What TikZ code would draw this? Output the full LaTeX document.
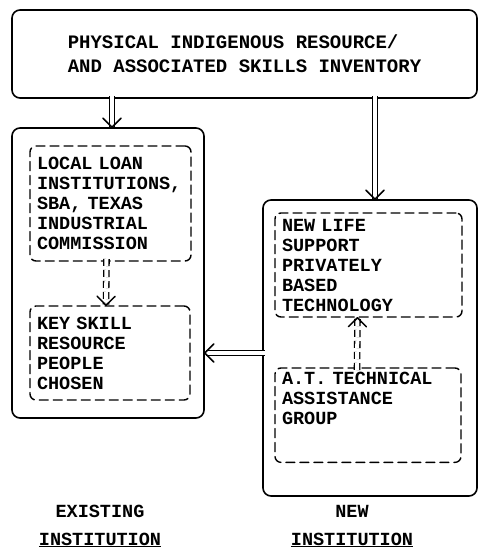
\documentclass[tikz,border=0pt]{standalone}
\usepackage{fontspec}
\setmonofont{Liberation Mono}
\usetikzlibrary{arrows.meta}
\tikzset{
  bigbox/.style={draw, line width=1.6pt, rounded corners=8pt, inner sep=0pt, outer sep=0pt, anchor=north west},
  dashbox/.style={draw, line width=1.4pt, dash pattern=on 9pt off 5pt, rounded corners=6pt,
    align=left, inner xsep=7pt, inner ysep=4pt, outer sep=0pt, anchor=north west},
  dbl/.style={double, double distance=4pt, line width=1.3pt, line cap=butt,
    -{Straight Barb[line width=1.5pt, length=9pt, width=18pt, line cap=round, line join=round]}},
}
\begin{document}
\begin{tikzpicture}[x=1pt, y=-1pt, font=\ttfamily\bfseries\fontsize{18.5}{20}\selectfont, line join=round, line cap=round]
  \useasboundingbox (0,0) rectangle (478,554);
  % inventory
  \node[bigbox, minimum width=465, minimum height=88, align=left,
    font=\ttfamily\bfseries\fontsize{19}{24}\selectfont] (res) at (12,10)
    {PHYSICAL INDIGENOUS RESOURCE/\\AND ASSOCIATED SKILLS INVENTORY};
  % existing institution
  \node[bigbox, minimum width=192, minimum height=290] (lbox) at (12,128) {};
  \node[dashbox, text width=147, minimum height=115] (loan) at (30,146)
    {LOCAL LOAN\\INSTITUTIONS,\\SBA, TEXAS\\INDUSTRIAL\\COMMISSION};
  \node[dashbox, text width=146, minimum height=94] (key) at (30,306)
    {KEY SKILL\\RESOURCE\\PEOPLE\\CHOSEN};
  % new institution
  \node[bigbox, minimum width=214, minimum height=296] (rbox) at (263,200) {};
  \node[dashbox, text width=173, minimum height=104] (life) at (275,213)
    {NEW LIFE\\SUPPORT\\PRIVATELY\\BASED\\TECHNOLOGY};
  \node[dashbox, text width=172, text depth=74pt] (tech) at (275,368)
    {A.T. TECHNICAL\\ASSISTANCE\\GROUP};
  % arrows
  \draw[dbl] ([xshift=4pt, yshift=2pt]res.south -| lbox.north) -- ([xshift=4pt]lbox.north);
  \draw[dbl] ([xshift=5pt, yshift=2pt]res.south -| rbox.north) -- ([xshift=5pt]rbox.north);
  \draw[dbl] ([xshift=2pt]rbox.west |- key.east) -- (lbox.east |- key.east);
  \draw[dbl, dash pattern=on 7pt off 4pt] ([xshift=-4pt, yshift=2pt]loan.south) -- ([xshift=-4pt]key.north);
  \draw[dbl, dash pattern=on 7pt off 4pt] ([xshift=-11pt, yshift=-2pt]tech.north) -- ([xshift=-11pt]life.south);
  % labels
  \node[align=center, font=\ttfamily\bfseries\fontsize{18.5}{28}\selectfont] (exist) at (100,526)
    {EXISTING\\\underline{INSTITUTION}};
  \node[align=center, font=\ttfamily\bfseries\fontsize{18.5}{28}\selectfont] (new) at (352,526)
    {NEW\\\underline{INSTITUTION}};
\end{tikzpicture}
\end{document}
